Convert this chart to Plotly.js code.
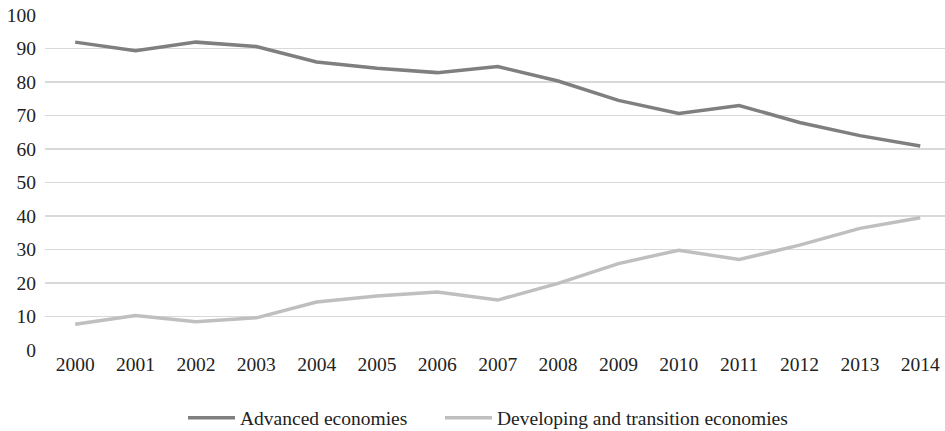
<!DOCTYPE html>
<html>
<head>
<meta charset="utf-8">
<script src="https://cdn.plot.ly/plotly-3.0.1.min.js"></script>
<style>html,body{margin:0;padding:0;background:#fff;}#chart{width:945px;height:431px;}</style>
</head>
<body>
<div id="chart"></div>
<script>
const years = ["2000","2001","2002","2003","2004","2005","2006","2007","2008","2009","2010","2011","2012","2013","2014"];
const advanced = [91.9, 89.3, 91.9, 90.6, 86.0, 84.1, 82.8, 84.6, 80.3, 74.5, 70.6, 73.0, 67.9, 64.0, 60.9];
const developing = [7.7, 10.3, 8.4, 9.6, 14.3, 16.1, 17.3, 14.9, 19.9, 25.8, 29.8, 27.0, 31.3, 36.3, 39.5];
const seriesNames = ["Advanced economies", "Developing and transition economies"];
const yTicks = [0,10,20,30,40,50,60,70,80,90,100];

const font = "'Liberation Serif', 'Times New Roman', serif";
const fs = 19.5;
const traces = [
  {x: years.map((_, i) => i), y: advanced, name: seriesNames[0], type: "scatter", mode: "lines",
   line: {color: "#7f7f7f", width: 3.5}, legend: "legend"},
  {x: years.map((_, i) => i), y: developing, name: seriesNames[1], type: "scatter", mode: "lines",
   line: {color: "#bfbfbf", width: 3.5}, legend: "legend2"}
];
const legendBase = {orientation: "h", xref: "container", yref: "container", xanchor: "left", yanchor: "middle",
  y: 0.03, bgcolor: "rgba(0,0,0,0)", font: {family: font, size: fs, color: "#222"}, itemwidth: 47};
const layout = {
  width: 945, height: 431,
  margin: {l: 45, r: 0, t: 15, b: 81, autoexpand: false},
  paper_bgcolor: "#fff", plot_bgcolor: "#fff",
  font: {family: font, size: fs, color: "#222"},
  showlegend: true,
  legend: Object.assign({}, legendBase, {x: 183 / 945}),
  legend2: Object.assign({}, legendBase, {x: 440 / 945}),
  xaxis: {range: [-0.5, 14.41], tickvals: years.map((_, i) => i), ticktext: years,
          tickfont: {family: font, size: fs, color: "#222"}, automargin: false,
          showgrid: false, zeroline: false, showline: false, ticks: "", ticklen: 0},
  yaxis: {range: [0, 100], tickvals: yTicks, showgrid: true, gridcolor: "#d9d9d9", gridwidth: 1.5,
          tickfont: {family: font, size: fs, color: "#222"}, automargin: false,
          zeroline: false, showline: false, ticks: "", ticklabelstandoff: 8}
};
Plotly.newPlot("chart", traces, layout, {staticPlot: true, displayModeBar: false});
</script>
</body>
</html>
